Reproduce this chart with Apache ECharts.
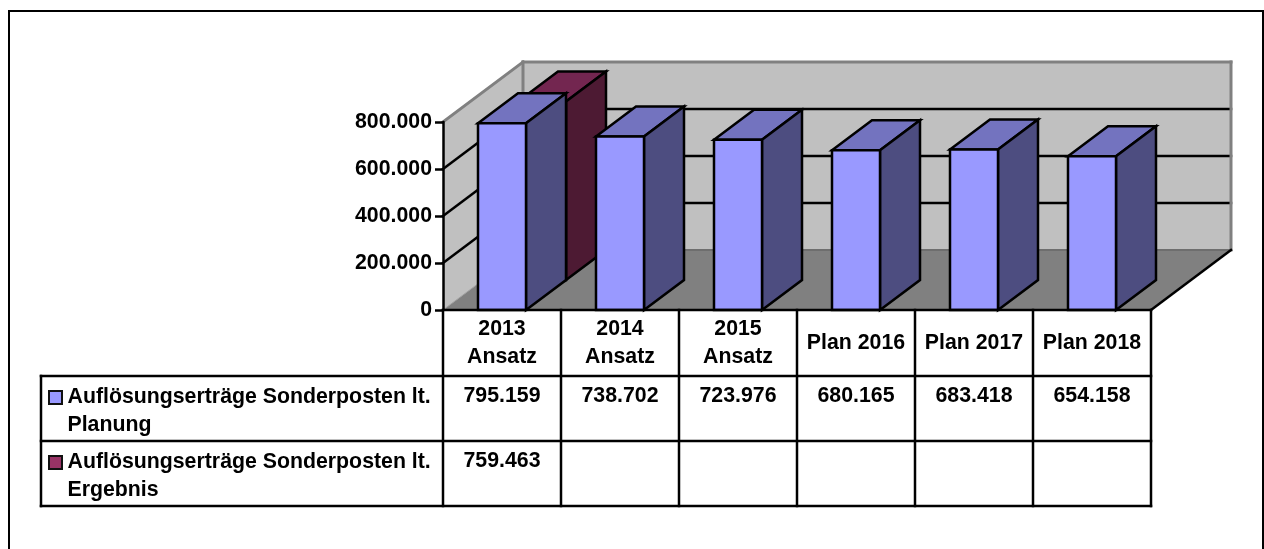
<!DOCTYPE html>
<html lang="de">
<head>
<meta charset="utf-8">
<title>Auflösungserträge Sonderposten</title>
<script src="https://cdn.jsdelivr.net/npm/echarts@6/dist/echarts.min.js"></script>
<style>
  html, body { margin: 0; padding: 0; background: #fff; }
  #chart { width: 1264px; height: 549px; }
</style>
</head>
<body>
<div id="chart"></div>
<script>
// Chart data
const categories = ['2013\nAnsatz', '2014\nAnsatz', '2015\nAnsatz', 'Plan 2016', 'Plan 2017', 'Plan 2018'];
const planValues = [795159, 738702, 723976, 680165, 683418, 654158];
const resultValues = [759463, null, null, null, null, null];
const planName = 'Auflösungserträge Sonderposten lt. Planung';
const resultName = 'Auflösungserträge Sonderposten lt. Ergebnis';

// Pseudo-3D projection: the depth of the whole plot, split into two bar rows
const DEPTH_X = 80, DEPTH_Y = 60;
const FONT_SIZE = 21.3;
const FONT_FAMILY = '"Liberation Sans", Arial, sans-serif';
const FONT = 'bold ' + FONT_SIZE + 'px ' + FONT_FAMILY;
const LINE = 2.5;

const deDot = v => String(v).replace(/\B(?=(\d{3})+(?!\d))/g, '.');

function poly(points, fill, stroke, lineWidth) {
  return {
    type: 'polygon',
    shape: { points },
    style: { fill, stroke: stroke || null, lineWidth: lineWidth || 0, lineJoin: 'miter' }
  };
}
function line(x1, y1, x2, y2, stroke, lineWidth) {
  return {
    type: 'line',
    shape: { x1, y1, x2, y2 },
    style: { stroke, lineWidth, lineCap: 'square' }
  };
}
function label(text, x, y, align) {
  return {
    type: 'text',
    style: { text, x, y, align: align || 'center', verticalAlign: 'middle', font: FONT, fill: '#000' }
  };
}

// Back wall, side wall, floor and the gridlines that run across them
function renderWalls(params, api) {
  const cs = params.coordSys;
  const L = cs.x, R = cs.x + cs.width, T = cs.y, B = cs.y + cs.height;
  const dx = DEPTH_X, dy = DEPTH_Y;
  const children = [
    poly([[L + dx, T - dy], [R + dx, T - dy], [R + dx, B - dy], [L + dx, B - dy]], '#C0C0C0'),
    poly([[L, T], [L + dx, T - dy], [L + dx, B - dy], [L, B]], '#C0C0C0'),
    poly([[L, B], [L + dx, B - dy], [R + dx, B - dy], [R, B]], '#808080')
  ];
  [200000, 400000, 600000].forEach(v => {
    const y = api.coord([0, v])[1];
    children.push(line(L, y, L + dx, y - dy, '#000', LINE));
    children.push(line(L + dx, y - dy, R + dx, y - dy, '#000', LINE));
  });
  children.push(
    line(L, T, L + dx, T - dy, '#808080', 3),
    line(L + dx, T - dy, R + dx, T - dy, '#808080', 3),
    line(L + dx, T - dy, L + dx, B - dy, '#808080', 3),
    line(R + dx, T - dy, R + dx, B - dy, '#808080', 3),
    line(L, B, L + dx, B - dy, '#A0A0A0', 1),
    line(L + dx, B - dy, R + dx, B - dy, '#6E6E6E', 2),
    line(R, B, R + dx, B - dy, '#000', LINE)
  );
  return { type: 'group', children };
}

// One box: front, side and top faces; row selects the front or back half of the depth
function barRenderer(row, faces) {
  return function (params, api) {
    const base = api.coord([api.value(0), 0]);
    const top = api.coord([api.value(0), api.value(1)]);
    const w = api.size([1, 0])[0] * 0.4068;
    const ox = row * DEPTH_X / 2, oy = -row * DEPTH_Y / 2;
    const x0 = base[0] - w / 2 + ox, x1 = x0 + w;
    const y0 = base[1] + oy, yt = top[1] + oy;
    const dx = DEPTH_X / 2, dy = DEPTH_Y / 2;
    return {
      type: 'group',
      children: [
        poly([[x0, yt], [x1, yt], [x1 + dx, yt - dy], [x0 + dx, yt - dy]], faces.top, '#000', LINE),
        poly([[x1, yt], [x1 + dx, yt - dy], [x1 + dx, y0 - dy], [x1, y0]], faces.side, '#000', LINE),
        poly([[x0, yt], [x1, yt], [x1, y0], [x0, y0]], faces.front, '#000', LINE)
      ]
    };
  };
}

// Data table below the plot, with the legend keys in its first column
function renderTable(params) {
  const cs = params.coordSys;
  const L = cs.x, B = cs.y + cs.height;
  const cellW = cs.width / categories.length;
  const tableLeft = 41, row1 = 376, row2 = 441, row3 = 506;
  const children = [];
  for (let i = 0; i <= categories.length; i++) {
    children.push(line(L + i * cellW, B, L + i * cellW, row3, '#000', LINE));
  }
  children.push(
    line(L, B, L + cs.width, B, '#000', LINE),
    line(tableLeft, row1, L + cs.width, row1, '#000', LINE),
    line(tableLeft, row2, L + cs.width, row2, '#000', LINE),
    line(tableLeft, row3, L + cs.width, row3, '#000', LINE),
    line(tableLeft, row1, tableLeft, row3, '#000', LINE)
  );
  const rows = [
    { top: row1, name: planName, values: planValues, key: '#9999FF' },
    { top: row2, name: resultName, values: resultValues, key: '#993366' }
  ];
  rows.forEach(r => {
    children.push({
      type: 'rect',
      shape: { x: 49, y: r.top + 15, width: 13, height: 13 },
      style: { fill: r.key, stroke: '#111', lineWidth: 2 }
    });
    const cut = r.name.lastIndexOf(' ');
    children.push(label(r.name.slice(0, cut), 67.5, r.top + 21, 'left'));
    children.push(label(r.name.slice(cut + 1), 67.5, r.top + 49, 'left'));
    r.values.forEach((v, i) => {
      if (v !== null) children.push(label(deDot(v), L + (i + 0.5) * cellW, r.top + 20));
    });
  });
  return { type: 'group', children };
}

const toPairs = values => values.map((v, i) => [i, v]).filter(p => p[1] !== null);

const chart = echarts.init(document.getElementById('chart'), null, { renderer: 'canvas' });
chart.setOption({
  animation: false,
  backgroundColor: '#fff',
  tooltip: { show: false },
  grid: { left: 443, right: 113, top: 122, bottom: 239 },
  graphic: [{
    type: 'rect',
    shape: { x: 9, y: 11, width: 1254, height: 600 },
    style: { fill: 'none', stroke: '#000', lineWidth: 2 },
    silent: true
  }],
  xAxis: {
    type: 'category',
    data: categories,
    boundaryGap: true,
    z: 20,
    axisLine: { show: false },
    axisTick: { show: false },
    axisLabel: {
      interval: 0,
      margin: 33,
      verticalAlign: 'middle',
      lineHeight: 28,
      color: '#000',
      fontFamily: FONT_FAMILY,
      fontWeight: 'bold',
      fontSize: FONT_SIZE
    }
  },
  yAxis: {
    type: 'value',
    min: 0,
    max: 800000,
    interval: 200000,
    z: 20,
    splitLine: { show: false },
    axisLine: { show: true, lineStyle: { color: '#000', width: LINE } },
    axisTick: { show: true, length: 8, lineStyle: { color: '#000', width: LINE } },
    axisLabel: {
      margin: 11,
      color: '#000',
      fontFamily: FONT_FAMILY,
      fontWeight: 'bold',
      fontSize: FONT_SIZE,
      formatter: v => deDot(v)
    }
  },
  series: [
    { type: 'custom', name: 'Wände', silent: true, z: 1, data: [[0, 0]], renderItem: renderWalls },
    {
      type: 'custom', name: resultName, silent: true, z: 2,
      data: toPairs(resultValues),
      encode: { x: 0, y: 1 },
      renderItem: barRenderer(1, { front: '#993366', side: '#4D1A33', top: '#732650' })
    },
    {
      type: 'custom', name: planName, silent: true, z: 3,
      data: toPairs(planValues),
      encode: { x: 0, y: 1 },
      renderItem: barRenderer(0, { front: '#9999FF', side: '#4D4D80', top: '#7373BF' })
    },
    { type: 'custom', name: 'Tabelle', silent: true, z: 4, data: [[0, 0]], renderItem: renderTable }
  ]
});
</script>
</body>
</html>
